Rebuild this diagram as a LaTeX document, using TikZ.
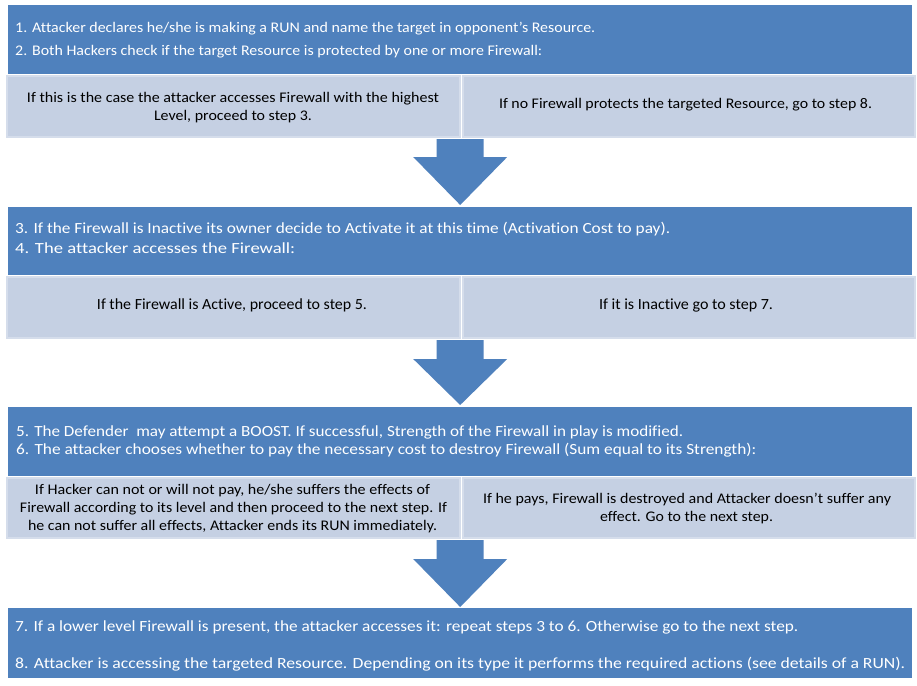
\documentclass[tikz,border=0pt]{standalone}
\usepackage{fontspec}
\setmainfont{Carlito}[Ligatures={NoCommon}]
\usetikzlibrary{calc}
\definecolor{dblue}{HTML}{4F81BD}
\definecolor{lcell}{HTML}{C5D0E3}
\definecolor{lborder}{HTML}{D5DDEB}
\newcommand\fitw[2]{\resizebox{#1}{\height}{#2}}
\begin{document}
\begin{tikzpicture}[x=1pt,y=-1pt,
  darkbox/.style={fill=dblue, draw=none, anchor=north west, inner sep=0pt, minimum width=904pt},
  cellbox/.style={fill=lcell, draw=lborder, line width=2pt, anchor=north west, inner sep=0pt},
  wtext/.style={text=white, inner sep=0pt, anchor=base west, font=\fontsize{14.7}{17}\selectfont},
  wtextb/.style={text=white, inner sep=0pt, anchor=base west, font=\fontsize{15.5}{18}\selectfont},
  ctext/.style={text=black, inner sep=0pt, anchor=base, font=\fontsize{14.7}{17}\selectfont},
  ctextb/.style={text=black, inner sep=0pt, anchor=base, font=\fontsize{15.5}{18}\selectfont},
  barrow/.style={fill=dblue, draw=none}]
\useasboundingbox[fill=white] (0,0) rectangle (917,685);

% ---- Block 1 ----
\node[darkbox, minimum height=69pt] (b1) at (8,5) {};
\node[cellbox, minimum width=453pt, minimum height=61pt] (c1l) at (6,75) {};
\node[cellbox, minimum width=452.5pt, minimum height=61pt] (c1r) at (461.5,75) {};
\node[wtext] (t1) at (15,33) {\fitw{580pt}{1. Attacker declares he/she is making a RUN and name the target in opponent’s Resource.}};
\node[wtext] (t2) at (15,56) {\fitw{527pt}{2. Both Hackers check if the target Resource is protected by one or more Firewall:}};
\node[ctext] (t3) at (233,102) {\fitw{412pt}{If this is the case the attacker accesses Firewall with the highest}};
\node[ctext] (t4) at (233,120) {\fitw{158pt}{Level, proceed to step 3.}};
\node[ctext] (t5) at (685.5,108) {\fitw{373pt}{If no Firewall protects the targeted Resource, go to step 8.}};

% ---- Block 2 ----
\node[darkbox, minimum height=68pt] (b2) at (8,207) {};
\node[cellbox, minimum width=453pt, minimum height=61pt] (c2l) at (6,276) {};
\node[cellbox, minimum width=452.5pt, minimum height=61pt] (c2r) at (461.5,276) {};
\node[wtextb] (t6) at (15,233) {\fitw{655pt}{3. If the Firewall is Inactive its owner decide to Activate it at this time (Activation Cost to pay).}};
\node[wtextb] (t7) at (15,253) {\fitw{280pt}{4. The attacker accesses the Firewall:}};
\node[ctextb] (t8) at (232,309) {\fitw{270pt}{If the Firewall is Active, proceed to step 5.}};
\node[ctextb] (t9) at (686,309) {\fitw{174pt}{If it is Inactive go to step 7.}};

% ---- Block 3 ----
\node[darkbox, minimum height=69pt] (b3) at (8,407) {};
\node[cellbox, minimum width=453pt, minimum height=60pt] (c3l) at (6,477) {};
\node[cellbox, minimum width=452.5pt, minimum height=60pt] (c3r) at (461.5,477) {};
\node[wtextb] (t10) at (16,436) {\fitw{667pt}{5. The Defender\ \ may attempt a BOOST. If successful, Strength of the Firewall in play is modified.}};
\node[wtextb] (t11) at (16,454) {\fitw{740pt}{6. The attacker chooses whether to pay the necessary cost to destroy Firewall (Sum equal to its Strength):}};
\node[ctext] (t12) at (232.5,494) {\fitw{395pt}{If Hacker can not or will not pay, he/she suffers the effects of}};
\node[ctext] (t13) at (233.5,512) {\fitw{427pt}{Firewall according to its level and then proceed to the next step. If}};
\node[ctext] (t14) at (232.5,530) {\fitw{409pt}{he can not suffer all effects, Attacker ends its RUN immediately.}};
\node[ctext] (t15) at (687,503) {\fitw{408pt}{If he pays, Firewall is destroyed and Attacker doesn’t suffer any}};
\node[ctext] (t16) at (686.5,521) {\fitw{173pt}{effect. Go to the next step.}};

% ---- Block 4 ----
\node[darkbox, minimum height=70pt] (b4) at (8,608) {};
\node[wtextb] (t17) at (15,631) {\fitw{783pt}{7. If a lower level Firewall is present, the attacker accesses it: repeat steps 3 to 6. Otherwise go to the next step.}};
\node[wtextb] (t18) at (15,668) {\fitw{890pt}{8. Attacker is accessing the targeted Resource. Depending on its type it performs the required actions (see details of a RUN).}};

% ---- Block arrows ----
\fill[barrow] ($(b2.north)+(0,-2)$) -- ++(47,-48) -- ++(-23.5,0) -- ($(b2.north |- c1l.south)+(23.5,1)$) -- ($(b2.north |- c1l.south)+(-23.5,1)$) -- ($(b2.north)+(-23.5,-50)$) -- ++(-23.5,0) -- cycle;
\fill[barrow] ($(b3.north)+(0,-2)$) -- ++(47,-46) -- ++(-23.5,0) -- ($(b3.north |- c2l.south)+(23.5,1)$) -- ($(b3.north |- c2l.south)+(-23.5,1)$) -- ($(b3.north)+(-23.5,-48)$) -- ++(-23.5,0) -- cycle;
\fill[barrow] ($(b4.north)+(0,-1)$) -- ++(47,-48) -- ++(-23.5,0) -- ($(b4.north |- c3l.south)+(23.5,1)$) -- ($(b4.north |- c3l.south)+(-23.5,1)$) -- ($(b4.north)+(-23.5,-49)$) -- ++(-23.5,0) -- cycle;
\end{tikzpicture}
\end{document}
